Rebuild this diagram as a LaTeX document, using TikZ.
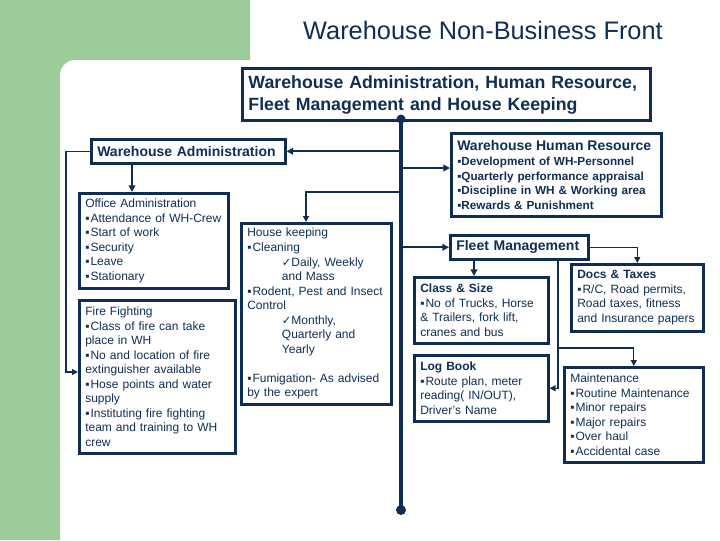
\documentclass[tikz,border=0pt]{standalone}
\usepackage{fontspec}
\setmainfont{Liberation Sans}
\newfontfamily\checkfont{DejaVu Sans}
\usetikzlibrary{arrows.meta}
\definecolor{wnavy}{RGB}{16,46,84}
\definecolor{leaf}{RGB}{157,203,154}
\newcommand{\tick}{{\checkfont\fontsize{8.5}{9}\selectfont ✓}}
\newcommand{\sqb}{▪\kern0.8pt}

\tikzset{every picture/.style={line width=0.75pt}}
\tikzset{
  card/.style={draw=wnavy, line width=1.9pt, text=wnavy, anchor=north west, align=left,
    inner xsep=4.5pt, inner ysep=3pt, font=\fontsize{9}{10.9}\selectfont},
  trunk/.style={draw=wnavy, line width=3.4pt},
  feed/.style={draw=wnavy, line width=1.5pt, -{Triangle[length=5pt,width=5pt]}},
  link/.style={draw=wnavy, line width=0.9pt, -{Triangle[length=4.5pt,width=4.5pt]}},
}

\begin{document}
\begin{tikzpicture}[x=0.75pt,y=0.75pt,yscale=-1,xscale=1]
\useasboundingbox (0,0) rectangle (720,540);

%Shape: green backdrop
\fill [leaf] (0,0) -- (250,0) -- (250,60) -- (75,60) .. controls (66.7,60) and (60,66.7) .. (60,75) -- (60,540) -- (0,540) -- cycle ;

% Title
\node (title) at (483,30) [text=wnavy, font=\fontsize{19}{23}\selectfont] {Warehouse Non-Business Front};

% Top box
\node [card, line width=2.2pt, text width=297pt, minimum height=39pt, font=\bfseries\fontsize{13.3}{16.5}\selectfont] (top) at (241,67) {Warehouse Administration, Human Resource,\\Fleet Management and House Keeping};

% Left branch
\node [card, text width=136.5pt, minimum height=18pt, font=\bfseries\fontsize{10.5}{12}\selectfont] (wa) at (90,138) {Warehouse Administration};
\node [card, text width=102.75pt, minimum height=71.25pt] (office) at (78,192) {Office Administration\\\sqb Attendance of WH-Crew\\\sqb Start of work\\\sqb Security\\\sqb Leave\\\sqb Stationary};
\node [card, text width=108pt, minimum height=114.75pt] (fire) at (78,299) {Fire Fighting\\\sqb Class of fire can take\\place in WH\\\sqb No and location of fire\\extinguisher available\\\sqb Hose points and water\\supply\\\sqb Instituting fire fighting\\team and training to WH\\crew};
\node [card, text width=103.5pt, minimum height=135.75pt] (hk) at (240,222) {House keeping\\\sqb Cleaning\\\hspace*{26pt}\tick Daily, Weekly\\\hspace*{26pt}and Mass\\\sqb Rodent, Pest and Insect\\Control\\\hspace*{26pt}\tick Monthly,\\\hspace*{26pt}Quarterly and\\\hspace*{26pt}Yearly\\[10.9pt]\sqb Fumigation- As advised\\by the expert};

% Right branch
\node [card, text width=148.5pt, minimum height=62.25pt, font=\bfseries\fontsize{8.8}{10.9}\selectfont] (hr) at (450,132) {\mbox{\fontsize{10.5}{12}\selectfont Warehouse Human Resource}\\[1pt]▪Development of WH-Personnel\\▪Quarterly performance appraisal\\▪Discipline in WH \& Working area\\▪Rewards \& Punishment};
\node [card, text width=94.5pt, minimum height=18pt, font=\bfseries\fontsize{10.5}{12}\selectfont] (fleet) at (449,234) {Fleet Management};
\node [card, text width=91.5pt, minimum height=49.5pt] (class) at (413,276) {\textbf{Class \& Size}\\\sqb No of Trucks, Horse\\\& Trailers, fork lift,\\cranes and bus};
\node [card, text width=90pt, minimum height=50.25pt] (docs) at (570,263) {\textbf{Docs \& Taxes}\\\sqb R/C, Road permits,\\Road taxes, fitness\\and Insurance papers};
\node [card, text width=91.5pt, minimum height=49.5pt] (log) at (413,354) {\textbf{Log Book}\\\sqb Route plan, meter\\reading( IN/OUT),\\Driver's Name};
\node [card, text width=95.25pt, minimum height=71.25pt] (maint) at (563,366) {Maintenance\\\sqb Routine Maintenance\\\sqb Minor repairs\\\sqb Major repairs\\\sqb Over haul\\\sqb Accidental case};

% Trunk
\coordinate (hub) at (401,119);
\coordinate (foot) at (401,510);
\draw [trunk] (hub) -- (foot);
\fill [wnavy] (hub) circle (4.5);
\fill [wnavy] (foot) circle (5);

% Connectors
\coordinate (hrIn) at (401,168);
\coordinate (waDrop) at (132,162);
\coordinate (fireBend) at (66,372);
\coordinate (hkBend) at (306,192);
\coordinate (csDrop) at (474,258);
\coordinate (fmSplit) at (558,348);
\draw [feed] (hub |- wa.east) -- (wa.east);
\draw [feed] (hrIn) -- (hrIn -| hr.west);
\draw [feed] (hub |- fleet.west) -- (fleet.west);
\draw [feed] (waDrop) -- (waDrop |- office.north);
\draw [link] (wa.west) -| (fireBend) -- (fireBend -| fire.west);
\draw [link] (hub |- hkBend) -- (hkBend) -- (hkBend |- hk.north);
\draw [feed] (csDrop) -- (csDrop |- class.north);
\draw [link] (fleet.east) -| (docs.north);
\draw [link] (fmSplit |- fleet.south) -- (fmSplit) -| (maint.north);
\draw [link] (fmSplit) |- (log.east);

\end{tikzpicture}
\end{document}
